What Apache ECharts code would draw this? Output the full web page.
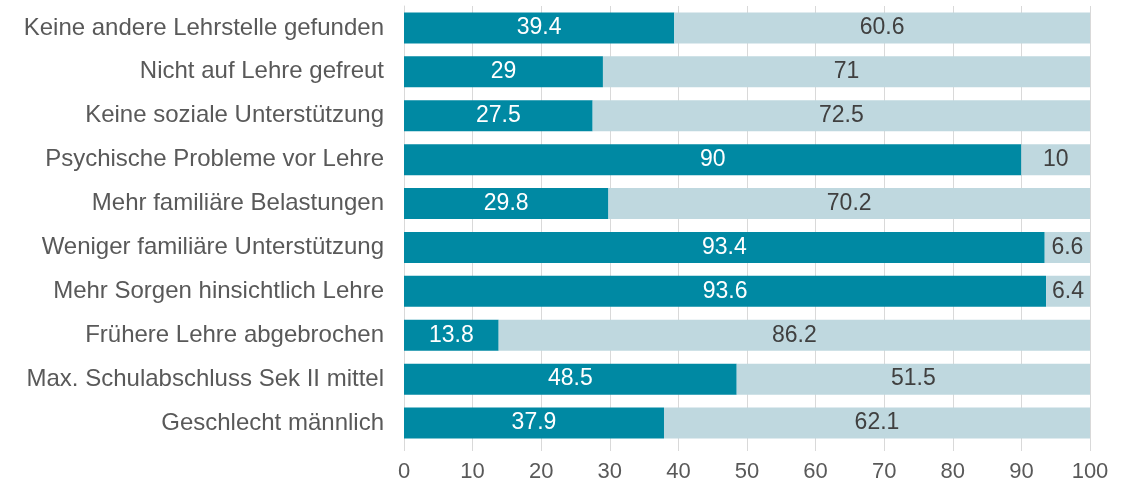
<!DOCTYPE html>
<html>
<head>
<meta charset="utf-8">
<script src="https://cdn.jsdelivr.net/npm/echarts@6/dist/echarts.min.js"></script>
<style>
  html, body { margin: 0; padding: 0; background: #fff; }
  #chart { width: 1135px; height: 484px; }
</style>
</head>
<body>
<div id="chart"></div>
<script>
// Kategorien von oben nach unten
var categories = [
    'Keine andere Lehrstelle gefunden',
    'Nicht auf Lehre gefreut',
    'Keine soziale Unterstützung',
    'Psychische Probleme vor Lehre',
    'Mehr familiäre Belastungen',
    'Weniger familiäre Unterstützung',
    'Mehr Sorgen hinsichtlich Lehre',
    'Frühere Lehre abgebrochen',
    'Max. Schulabschluss Sek II mittel',
    'Geschlecht männlich'
];
var yesValues = [39.4, 29, 27.5, 90, 29.8, 93.4, 93.6, 13.8, 48.5, 37.9];
var noValues = [60.6, 71, 72.5, 10, 70.2, 6.6, 6.4, 86.2, 51.5, 62.1];
var xTicks = [0, 10, 20, 30, 40, 50, 60, 70, 80, 90, 100];

var font = 'Liberation Sans, Arial, sans-serif';

var option = {
    animation: false,
    grid: { left: 404, right: 45, top: 6, bottom: 39, containLabel: false },
    xAxis: {
        type: 'value',
        min: xTicks[0],
        max: xTicks[xTicks.length - 1],
        interval: 10,
        axisLine: { show: false },
        axisTick: { show: true, length: 6, lineStyle: { color: '#d9d9d9' } },
        splitLine: { show: true, lineStyle: { color: '#d9d9d9', width: 1 } },
        axisLabel: { color: '#595959', fontSize: 22, fontFamily: font, margin: 16 }
    },
    yAxis: {
        type: 'category',
        data: categories,
        inverse: true,
        axisLine: { show: true, lineStyle: { color: '#d9d9d9' } },
        axisTick: { show: false },
        axisLabel: { color: '#595959', fontSize: 24, fontFamily: font, margin: 20 }
    },
    series: [{
        type: 'bar',
        stack: 'a',
        data: yesValues,
        barWidth: 31,
        itemStyle: { color: '#0089a3' },
        label: { show: true, position: 'inside', color: '#ffffff', fontSize: 23, fontFamily: font }
    }, {
        type: 'bar',
        stack: 'a',
        data: noValues,
        barWidth: 31,
        itemStyle: { color: '#bfd8df' },
        label: { show: true, position: 'inside', color: '#404040', fontSize: 23, fontFamily: font }
    }]
};
echarts.init(document.getElementById('chart')).setOption(option);
</script>
</body>
</html>
